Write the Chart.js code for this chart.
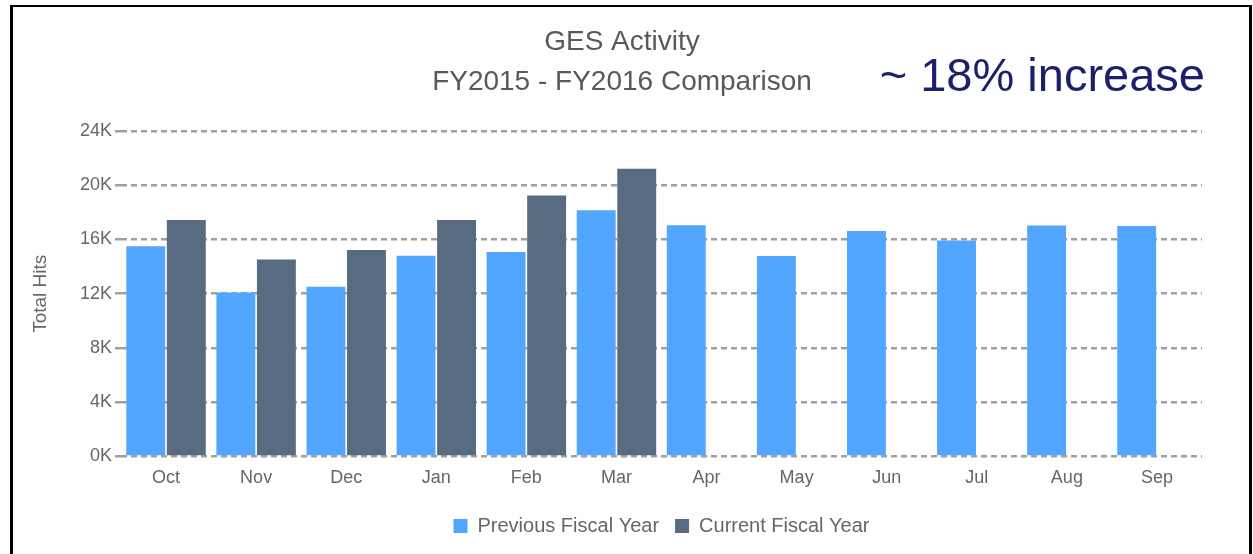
<!DOCTYPE html>
<html>
<head>
<meta charset="utf-8">
<script src="https://cdn.jsdelivr.net/npm/chart.js@4"></script>
<style>
  body { margin: 0; background: #fff; overflow: hidden; }
  #frame { position: absolute; left: 10px; top: 5px; width: 1236px; height: 600px;
           border: 3px solid #000; border-bottom: none; border-top-width: 2px; pointer-events: none; }
  canvas { position: absolute; left: 0; top: 0; }
</style>
</head>
<body>
<canvas id="gesChart" width="1253" height="554"></canvas>
<div id="frame"></div>
<script>
  const months = ['Oct', 'Nov', 'Dec', 'Jan', 'Feb', 'Mar', 'Apr', 'May', 'Jun', 'Jul', 'Aug', 'Sep'];
  const previousYear = [15500, 12100, 12520, 14800, 15080, 18160, 17050, 14780, 16630, 15930, 17030, 17000];
  const currentYear = [17440, 14530, 15230, 17440, 19250, 21220, null, null, null, null, null, null];
  const titleLines = ['GES Activity', 'FY2015 - FY2016 Comparison'];
  const callout = '~ 18% increase';

  const greyText = '#666666';

  // big blue note in the top right corner
  const calloutPlugin = {
    id: 'callout',
    afterDraw(chart) {
      const ctx = chart.ctx;
      ctx.save();
      ctx.font = '47px "Liberation Sans", Arial, sans-serif';
      ctx.fillStyle = '#1c1f6e';
      ctx.textAlign = 'right';
      ctx.textBaseline = 'alphabetic';
      ctx.fillText(callout, 1205, 91);
      ctx.restore();
    }
  };

  const gesCtx = document.getElementById('gesChart');
  const gesChart = new Chart(gesCtx, {
      type: 'bar',
      data: {
          labels: months,
          datasets: [{
              label: 'Previous Fiscal Year',
              data: previousYear,
              backgroundColor: '#52a6ff',
              borderWidth: 0
          }, {
              label: 'Current Fiscal Year',
              data: currentYear,
              backgroundColor: '#586b80',
              borderWidth: 0
          }]
      },
      options: {
          responsive: false,
          animation: false,
          categoryPercentage: 0.9,
          barPercentage: 0.96,
          layout: {
              padding: { left: 42, right: 51, top: 0, bottom: 8 }
          },
          plugins: {
              title: {
                  display: true,
                  text: titleLines,
                  color: '#595959',
                  font: { family: '"Liberation Sans", Arial, sans-serif', size: 28, weight: 'normal', lineHeight: 1.43 },
                  padding: { top: 22, bottom: 29 }
              },
              legend: {
                  position: 'bottom',
                  fullSize: false,
                  labels: {
                      color: greyText,
                      boxWidth: 14,
                      boxHeight: 14,
                      padding: 16,
                      font: { family: '"Liberation Sans", Arial, sans-serif', size: 20 }
                  }
              },
              tooltip: { enabled: false }
          },
          scales: {
              x: {
                  grid: { display: false, drawTicks: false },
                  border: { display: false },
                  ticks: {
                      color: greyText,
                      padding: 11,
                      font: { family: '"Liberation Sans", Arial, sans-serif', size: 18 }
                  }
              },
              y: {
                  min: 0,
                  max: 24000,
                  afterFit(scale) { scale.width = 79; },
                  border: { display: false, dash: [6, 4] },
                  grid: {
                      color: '#a0a0a0',
                      lineWidth: 2.5,
                      tickLength: 6,
                      tickColor: '#a0a0a0'
                  },
                  ticks: {
                      stepSize: 4000,
                      color: greyText,
                      padding: 3,
                      font: { family: '"Liberation Sans", Arial, sans-serif', size: 18 },
                      callback: (value) => (value / 1000) + 'K'
                  },
                  title: {
                      display: true,
                      text: 'Total Hits',
                      color: greyText,
                      padding: { top: -13, bottom: 0 },
                      font: { family: '"Liberation Sans", Arial, sans-serif', size: 19 }
                  }
              }
          }
      },
      plugins: [calloutPlugin]
  });
</script>
</body>
</html>
